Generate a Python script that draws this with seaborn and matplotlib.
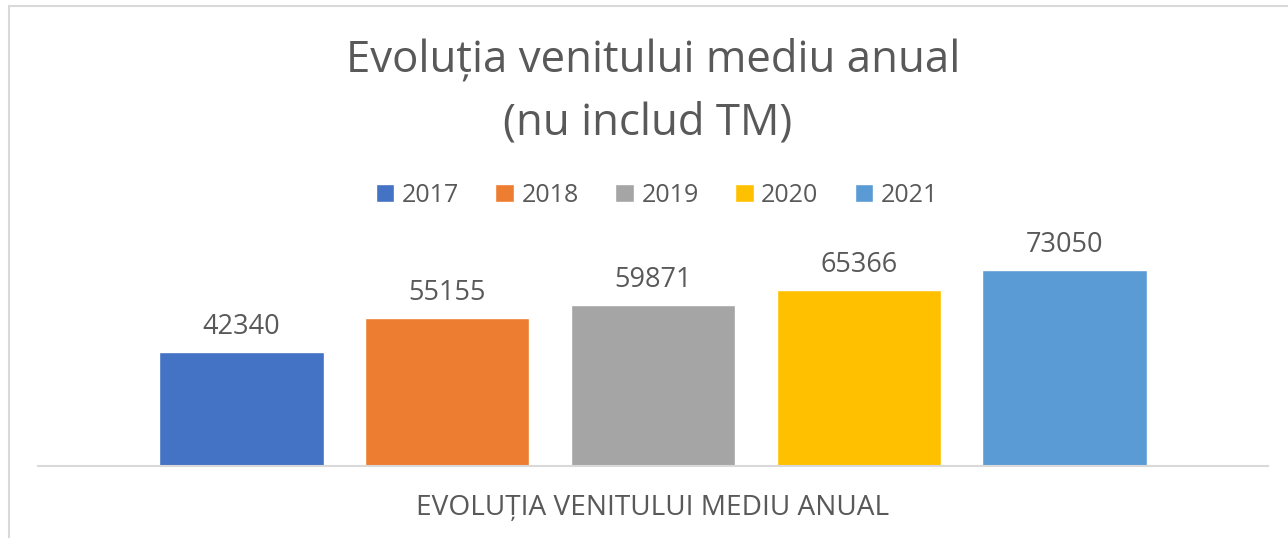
import matplotlib.pyplot as plt
import seaborn as sns
import pandas as pd
from matplotlib.patches import Rectangle

# Data
years = ["2017", "2018", "2019", "2020", "2021"]
values = [42340, 55155, 59871, 65366, 73050]
colors = ["#4472C4", "#ED7D31", "#A5A5A5", "#FFC000", "#5B9BD5"]
category = "EVOLUȚIA VENITULUI MEDIU ANUAL"

df = pd.DataFrame({"cat": [category] * len(years), "year": years, "value": values})

sns.set_style("white")
plt.rcParams["font.family"] = ["Open Sans", "DejaVu Sans"]
text_color = "#595959"

fig = plt.figure(figsize=(12.88, 5.38), dpi=100)
ax = fig.add_axes([38 / 1288, 1 - 466 / 538, 1230 / 1288, 215 / 538])

sns.barplot(data=df, x="cat", y="value", hue="year", hue_order=years,
            palette=colors, width=0.837, gap=0.2, ax=ax, saturation=1)

for c in ax.containers:
    ax.bar_label(c, fmt="%d", padding=8, fontsize=19.5, color=text_color)

handles, labels = ax.get_legend_handles_labels()
ax.get_legend().remove()
fig.legend(handles, labels, loc="center", bbox_to_anchor=(657 / 1288, 1 - 195 / 538), ncol=5,
           frameon=False, fontsize=18, labelcolor=text_color, handlelength=0.75,
           handleheight=0.75, handletextpad=0.3, columnspacing=1.45)

ax.set_xlim(-0.5, 0.5)
ax.set_ylim(0, 80000)
ax.set_yticks([])
ax.set_xticks([])
ax.set_xlabel("")
ax.set_ylabel("")
for s in ["top", "left", "right"]:
    ax.spines[s].set_visible(False)
ax.spines["bottom"].set_color("#d9d9d9")
ax.spines["bottom"].set_linewidth(1.5)

fig.text(653 / 1288, 1 - 508 / 538, category, ha="center", va="center", fontsize=20.2, color=text_color)
fig.text(653 / 1288, 1 - 60 / 538, "Evoluția venitului mediu anual", ha="center", va="center",
         fontsize=31.5, color=text_color)
fig.text(648 / 1288, 1 - 123 / 538, "(nu includ TM)", ha="center", va="center",
         fontsize=31.5, color=text_color)

fig.patches.append(Rectangle((9 / 1288, -0.1), 1.2, 1 - 6 / 538 + 0.1, transform=fig.transFigure,
                             fill=False, edgecolor="#d9d9d9", lw=1.5))

fig.savefig("out.png", dpi=100, facecolor="white")
